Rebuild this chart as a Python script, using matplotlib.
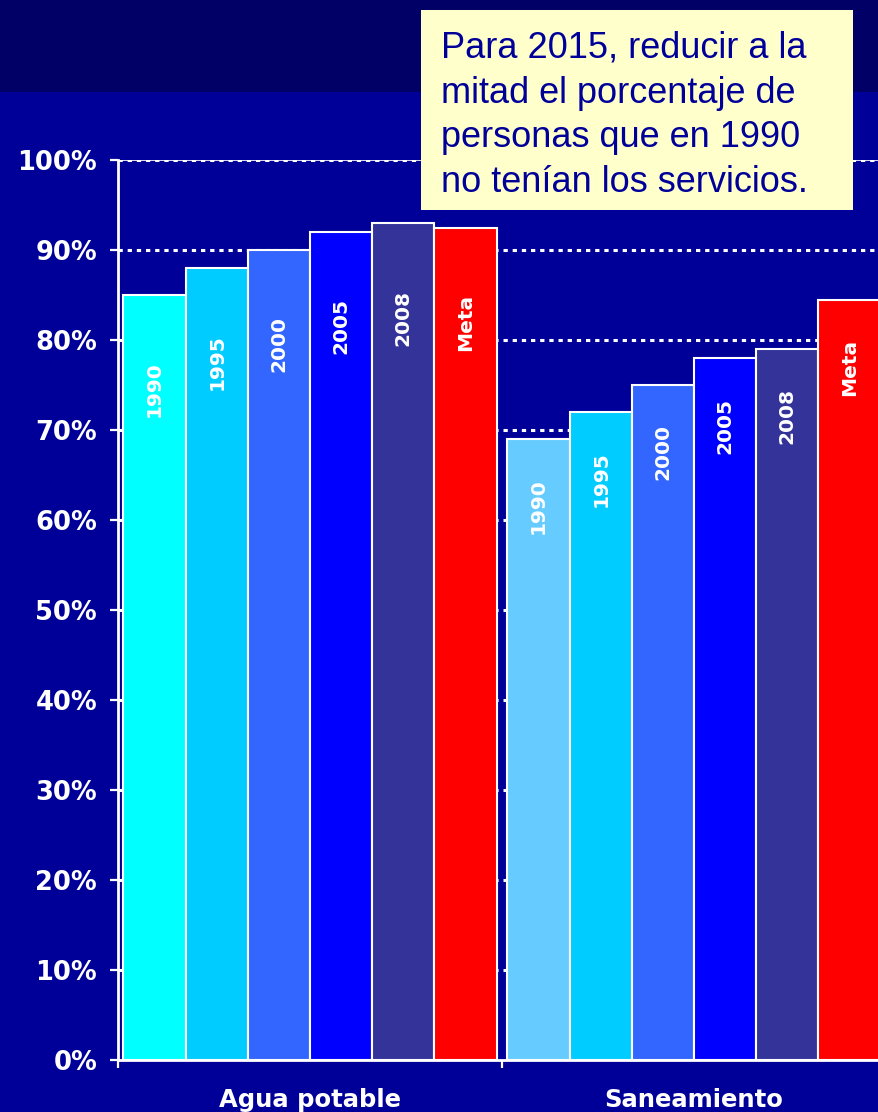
import matplotlib

matplotlib.use("Agg")
import matplotlib.pyplot as plt
import numpy as np
from matplotlib.patches import Rectangle


# Coverage (%) by service and year, plus the 2015 target ("Meta")
groups = ["Agua potable", "Saneamiento"]
series = ["1990", "1995", "2000", "2005", "2008", "Meta"]
agua = [85, 88, 90, 92, 93, 92.5]
saneamiento = [69, 72, 75, 78, 79, 84.5]
yticks = [0, 10, 20, 30, 40, 50, 60, 70, 80, 90, 100]
callout = [
    "Para 2015, reducir a la",
    "mitad el porcentaje de",
    "personas que en 1990",
    "no tenían los servicios.",
]

BG = "#000099"
BAND = "#000066"
agua_colors = ["#00FFFF", "#00CCFF", "#3366FF", "#0000FF", "#333399", "#FF0000"]
san_colors = ["#66CCFF", "#00CCFF", "#3366FF", "#0000FF", "#333399", "#FF0000"]

W, H = 879, 1112
fig = plt.figure(figsize=(W / 100, H / 100), dpi=100, facecolor=BG)

# darker title band across the top
fig.add_artist(Rectangle((0, 1 - 92 / H), 1, 92 / H, transform=fig.transFigure,
                         facecolor=BAND, edgecolor="none", zorder=-1))

ax = fig.add_axes([118 / W, 52 / H, 768 / W, 900 / H])
ax.set_facecolor(BG)

bw = 0.162
offs = (np.arange(len(series)) - (len(series) - 1) / 2) * bw
for gi, (vals, cols, lab_off) in enumerate([(agua, agua_colors, 10.5), (saneamiento, san_colors, 7.5)]):
    xs = gi + 0.5 + offs
    ax.bar(xs, vals, width=bw, color=cols, edgecolor="white", linewidth=1.5, zorder=3)
    for x, v, s in zip(xs, vals, series):
        ax.text(x, v - lab_off, s, rotation=90, ha="center", va="center", color="white",
                fontsize=14.5, fontweight="bold", zorder=4)

# dotted gridlines behind the bars
for t in yticks[1:]:
    ax.axhline(t, color="white", linewidth=2.2, linestyle=(0, (1.4, 1.6)), zorder=1)
ax.axhline(100, color="white", linewidth=1.2, zorder=1)

ax.set_xlim(0, 2)
ax.set_ylim(0, 100)
ax.set_yticks(yticks)
ax.set_yticklabels([f"{t}%" for t in yticks])
ax.set_xticks([0, 1, 2])
ax.set_xticklabels([])
ax.set_xticks([0.5, 1.5], minor=True)
ax.set_xticklabels(groups, minor=True)

for side in ["top", "right"]:
    ax.spines[side].set_visible(False)
for side in ["left", "bottom"]:
    ax.spines[side].set_color("white")
    ax.spines[side].set_linewidth(2)
    ax.spines[side].set_zorder(5)

ax.tick_params(axis="y", colors="white", length=6, width=1.6, pad=9,
               labelsize=18.5)
ax.tick_params(axis="x", which="major", colors="white", length=6, width=1.6)
ax.tick_params(axis="x", which="minor", length=0, pad=20, labelsize=17.5, labelcolor="white")
for lab in ax.get_yticklabels() + ax.get_xticklabels(minor=True):
    lab.set_fontweight("bold")

# callout box with the target statement
fig.add_artist(Rectangle((421 / W, 1 - 210 / H), 432 / W, 200 / H, transform=fig.transFigure,
                         facecolor="#FFFFCC", edgecolor="none", zorder=6))
for i, line in enumerate(callout):
    fig.text(441 / W, 1 - (58 + i * 44.7) / H, line, fontsize=26, family="Liberation Sans",
             color="#000099", ha="left", va="baseline", zorder=7)

fig.savefig("out.png", dpi=100, facecolor=BG)
